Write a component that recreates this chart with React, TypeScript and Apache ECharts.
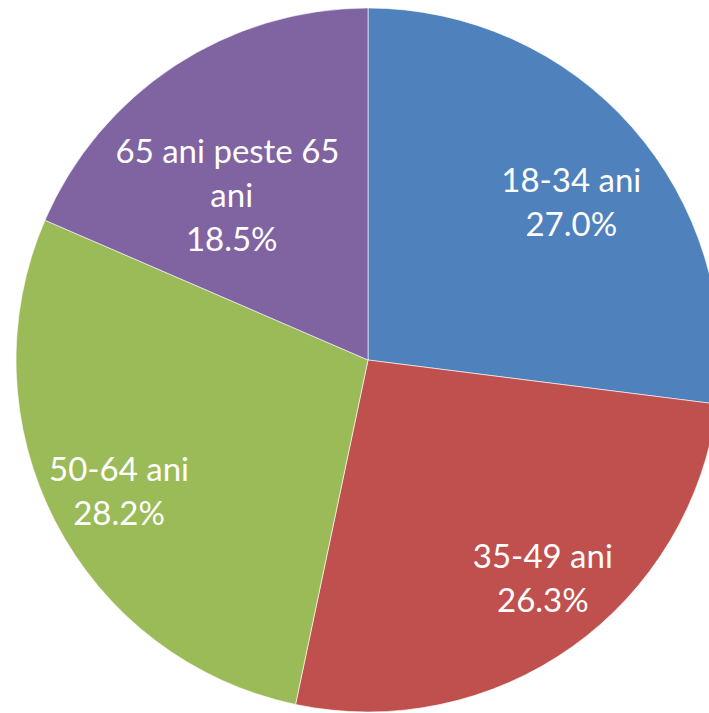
import React, { useEffect, useRef } from "react";
import * as echarts from "echarts";

const categories = ["18-34 ani", "35-49 ani", "50-64 ani", "65 ani peste 65 ani"];
const shares = [27.0, 26.3, 28.2, 18.5];
const colors = ["#4F81BD", "#C0504D", "#9BBB59", "#8064A2"];
// label nudges (px) relative to the default "inside" label anchor
const labelShiftX = [69, 71, -90, -38];
const labelShiftY = [-41, 71, 48, -16];

export default function App() {
  const ref = useRef<HTMLDivElement>(null);
  useEffect(() => {
    if (!ref.current) return;
    const chart = echarts.init(ref.current, null, { renderer: "svg" });
    chart.setOption({
      animation: false,
      backgroundColor: "#ffffff",
      series: [
        {
          type: "pie",
          center: [368, 360],
          radius: 352,
          startAngle: 90,
          clockwise: true,
          silent: true,
          data: categories.map((name, i) => ({
            name,
            value: shares[i],
            itemStyle: { color: colors[i] },
          })),
          itemStyle: { borderColor: "rgba(255,255,255,0.6)", borderWidth: 1 },
          label: {
            show: true,
            position: "inside",
            color: "#ffffff",
            fontFamily: "Lato, 'Open Sans', sans-serif",
            fontSize: 33,
            lineHeight: 44,
            align: "center",
            width: 245,
            overflow: "break",
            formatter: (p: any) => `${p.name}\n${Number(p.value).toFixed(1)}%`,
          },
          labelLayout: (p: any) => ({
            dx: labelShiftX[p.dataIndex],
            dy: labelShiftY[p.dataIndex],
          }),
          labelLine: { show: false },
        },
      ],
    });
    return () => chart.dispose();
  }, []);
  return (
    <div
      ref={ref}
      style={{ position: "fixed", left: 0, top: 0, width: 709, height: 713 }}
    />
  );
}
